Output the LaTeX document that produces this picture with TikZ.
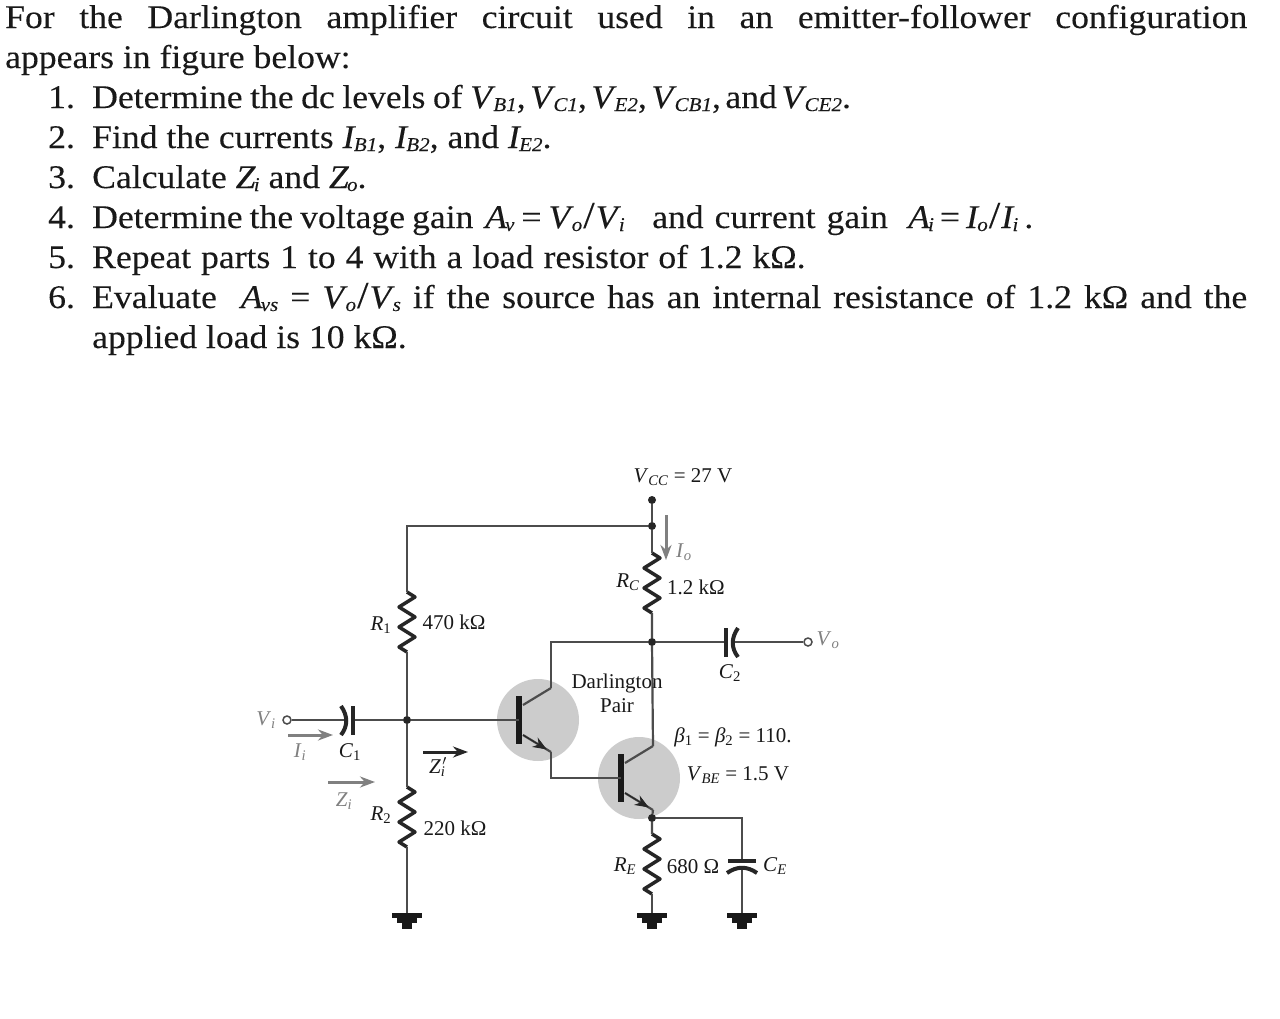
\documentclass[tikz,border=0pt]{standalone}
\usepackage{fontspec}
\usetikzlibrary{arrows.meta,calc,decorations.pathmorphing}
\setmainfont{Liberation Serif}
\newfontfamily\bodyfont[FakeStretch=1.08,FakeBold=0.12]{Liberation Serif}
\newcommand{\lab}[2]{\textit{#1}\textsubscript{\textit{#2}}}
\newcommand{\blab}[2]{\textit{#1}\kern-2pt\raisebox{-3pt}{\fontsize{19.5}{24}\selectfont\itshape #2}}
\newcommand{\slsh}{\kern1pt{\fontsize{38}{40}\selectfont/}\kern1pt}

\begin{document}
\begin{tikzpicture}[x=1pt,y=-1pt]
    \tikzstyle{line}=[anchor=base west, inner sep=0, font=\bodyfont\fontsize{33}{40}\selectfont, text=black!90]
    \tikzstyle{lbl}=[inner sep=0, font=\fontsize{21}{24}\selectfont, text=black!90]
    \tikzstyle{glbl}=[lbl, text=black!50]
    \tikzstyle{wire}=[line width=2.2pt, draw=black!70]
    \tikzstyle{res}=[line width=3.5pt, draw=black!85, line join=round, decorate, decoration={zigzag, amplitude=8pt, segment length=20pt}]
    \tikzstyle{plate}=[line width=4pt, draw=black!85]
    \tikzstyle{dot}=[circle, fill=black!85, inner sep=0, minimum size=8pt]
    \tikzstyle{term}=[circle, draw=black!70, fill=white, line width=1.5pt, inner sep=0, minimum size=8pt]
    \tikzstyle{garrow}=[line width=3pt, draw=black!50, -{Stealth[length=15pt,width=11pt]}]
    \tikzstyle{barrow}=[line width=3pt, draw=black!85, -{Stealth[length=15pt,width=11pt]}]

    \useasboundingbox (0,0) rectangle (1280,1018);
    \fill[white] (0,0) rectangle (1280,1018);

    \node[line] (l1) at (5,28) {\makebox[1242pt][s]{For the Darlington amplifier circuit used in an emitter-follower configuration}};
    \node[line] (l2) at (5,68) {appears in figure below:};
    \foreach \i/\y in {1/108,2/148,3/188,4/228,5/268,6/308} {
        \node[line] (n\i) at (48,\y) {\i.};
    }
    \node[line] (l3a) at (92,108) {\spaceskip=7.5pt Determine the dc levels of};
    \node[line] (l3b) at (470,108) {\spaceskip=4.5pt \blab{V}{B1}, \blab{V}{C1}, \blab{V}{E2}, \blab{V}{CB1}, and \blab{V}{CE2}.};
    \node[line] (l4) at (92,148) {Find the currents \blab{I}{B1}, \blab{I}{B2}, and \blab{I}{E2}.};
    \node[line] (l5) at (92,188) {Calculate \blab{Z}{i} and \blab{Z}{o}.};
    \node[line] (l6a) at (92,228) {\spaceskip=7pt Determine the voltage gain};
    \node[line] (l6b) at (485,228) {\spaceskip=7pt \blab{A}{v} = \blab{V}{o}\slsh\blab{V}{i}};
    \node[line] (l6c) at (652,228) {\spaceskip=11pt and current gain};
    \node[line] (l6d) at (908,228) {\spaceskip=6pt \blab{A}{i} = \blab{I}{o}\slsh\blab{I}{i} .};
    \node[line] (l7) at (92,268) {\spaceskip=9.9pt Repeat parts 1 to 4 with a load resistor of 1.2 kΩ.};
    \node[line] (l8) at (92,308) {\makebox[1155pt][s]{Evaluate \ \blab{A}{vs} = \blab{V}{o}\slsh\blab{V}{s} if the source has an internal resistance of 1.2 kΩ and the}};
    \node[line] (l9) at (92,348) {applied load is 10 kΩ.};

    \foreach \q/\x/\y/\cx/\cy in {qa/519/720/538/720, qb/621/778/639/778} {
        \fill[black!20] (\cx,\cy) circle (41);
        \coordinate (\q b) at (\x,\y);
        \coordinate (\q cs) at (\x+4,\y-15);
        \coordinate (\q c) at (\x+32,\y-32);
        \coordinate (\q es) at (\x+4,\y+15);
        \coordinate (\q e) at (\x+32,\y+32);
        \draw[wire] (\q cs) -- (\q c);
        \draw[wire] (\q es) -- (\q e);
        \draw[draw=black!85, line width=1pt, -{Stealth[length=14pt,width=11pt]}] (\q es) -- ($(\q es)!0.85!(\q e)$);
        \fill[black!90] (\x-3,\y-24) rectangle (\x+3,\y+24);
    }

    \node[dot] (vcc) at (652,500) {};
    \node[dot] (rail) at (652,526) {};
    \node[dot] (out) at (652,642) {};
    \node[dot] (inp) at (407,720) {};
    \node[dot] (emi) at (652,818) {};
    \node[term] (vi) at (287,720) {};
    \node[term] (vo) at (808,642) {};

    \foreach \r/\x/\a/\b in {ra/407/592/652, rb/407/787/847, rc/652/553/613, re/652/834/894} {
        \coordinate (\r t) at (\x,\a);
        \coordinate (\r u) at (\x,\b);
        \draw[res] (\r t) -- (\r u);
    }

    \coordinate (corner) at (407,526);
    \coordinate (ceq) at (742,818);
    \coordinate (cat) at (742,861);
    \coordinate (cab) at (742,868);
    \coordinate (ca) at (353,720);
    \coordinate (cb) at (346,720);
    \coordinate (da) at (726,642);
    \coordinate (db) at (733,642);
    \coordinate (qabend) at (551,778);
    \coordinate (qatop) at (551,642);

    \foreach \g/\x/\y in {ga/407/913, gb/652/913, gc/742/913} {
        \coordinate (\g) at (\x,\y);
        \fill[black!90] (\x-15,\y) rectangle (\x+15,\y+5);
        \fill[black!90] (\x-10,\y+5) rectangle (\x+10,\y+10);
        \fill[black!90] (\x-5,\y+10) rectangle (\x+5,\y+16);
    }

    \draw[wire] (vcc) -- (rail) -- (rct);
    \draw[wire] (rail) -- (corner) -- (rat);
    \draw[wire] (rau) -- (inp) -- (rbt);
    \draw[wire] (rbu) -- (ga);
    \draw[wire] (rcu) -- (out) -- (qbc);
    \draw[wire] (out) -- (qatop) -- (qac);
    \draw[wire] (vi) -- (cb);
    \draw[wire] (ca) -- (inp) -- (qab);
    \draw[wire] (qae) -- (qabend) -- (qbb);
    \draw[wire] (qbe) -- (emi) -- (ret);
    \draw[wire] (reu) -- (gb);
    \draw[wire] (emi) -- (ceq) -- (cat);
    \draw[wire] (cab) -- (gc);
    \draw[wire] (out) -- (da);
    \draw[wire] (db) -- (vo);

    \draw[plate] (353,706) -- (353,735);
    \draw[plate] (341,706) .. controls (348,716) and (348,726) .. (341,735);
    \draw[plate] (726,628) -- (726,657);
    \draw[plate] (738,628) .. controls (731,638) and (731,648) .. (738,657);
    \draw[plate] (728,861) -- (756,861);
    \draw[plate] (727,873) .. controls (737,866) and (747,866) .. (757,873);

    \coordinate (ia) at (288,735);
    \coordinate (ib) at (333,735);
    \coordinate (za) at (328,782);
    \coordinate (zb) at (375,782);
    \coordinate (zc) at (423,752);
    \coordinate (zd) at (468,752);
    \coordinate (oa) at (666,515);
    \coordinate (ob) at (666,560);
    \draw[garrow] (ia) -- (ib);
    \draw[garrow] (za) -- (zb);
    \draw[barrow] (zc) -- (zd);
    \draw[garrow] (oa) -- (ob);

    \node[lbl] (vcctxt) at (683,477) {\lab{V}{CC} = 27 V};
    \node[lbl] (rctxt) at (628,582) {\lab{R}{C}};
    \node[lbl] (rcval) at (696,587) {1.2 kΩ};
    \node[glbl] (iotxt) at (684,552) {\lab{I}{o}};
    \node[lbl] (ratxt) at (381,625) {\textit{R}\textsubscript{1}};
    \node[lbl] (raval) at (454,622) {470 kΩ};
    \node[lbl] (c2txt) at (730,673) {\textit{C}\textsubscript{2}};
    \node[glbl] (votxt) at (828,640) {\lab{V}{o}};
    \node[lbl, align=center, font=\fontsize{21}{24}\selectfont] (pair) at (617,693) {Darlington\\Pair};
    \node[lbl] (beta) at (733,737) {\textit{β}\textsubscript{1} = \textit{β}\textsubscript{2} = 110.};
    \node[lbl] (vbe) at (738,775) {\lab{V}{BE} = 1.5 V};
    \node[glbl] (vitxt) at (266,720) {\lab{V}{i}};
    \node[glbl] (iitxt) at (300,752) {\lab{I}{i}};
    \node[lbl] (c1txt) at (350,752) {\textit{C}\textsubscript{1}};
    \node[glbl] (zitxt) at (344,801) {\lab{Z}{i}};
    \node[lbl] (zptxt) at (438,767) {\lab{Z}{i}\kern-3pt$'$};
    \node[lbl] (rbtxt) at (381,815) {\textit{R}\textsubscript{2}};
    \node[lbl] (rbval) at (455,828) {220 kΩ};
    \node[lbl] (retxt) at (625,866) {\lab{R}{E}};
    \node[lbl] (reval) at (693,867) {680 Ω};
    \node[lbl] (cetxt) at (775,866) {\lab{C}{E}};
\end{tikzpicture}
\end{document}
